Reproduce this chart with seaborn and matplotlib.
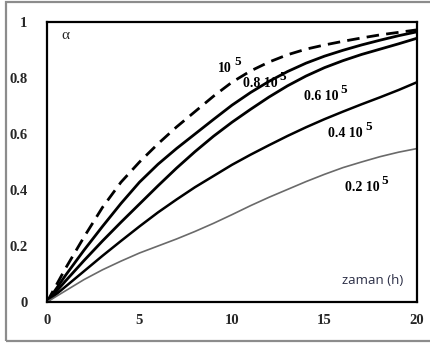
import matplotlib
matplotlib.use("Agg")
import matplotlib.pyplot as plt
import seaborn as sns
import pandas as pd
from matplotlib.patches import Rectangle

# time (h)
t = [0, 1, 2, 3, 4, 5, 6, 7, 8, 9, 10, 11, 12, 13, 14, 15, 16, 17, 18, 19, 20]

# conversion alpha for each level
a_100 = [0, 0.12, 0.232, 0.338, 0.428, 0.50, 0.565, 0.625, 0.68, 0.735, 0.785, 0.825,
         0.857, 0.883, 0.903, 0.918, 0.931, 0.943, 0.954, 0.963, 0.972]
a_080 = [0, 0.095, 0.185, 0.27, 0.352, 0.428, 0.492, 0.548, 0.60, 0.652, 0.703, 0.748,
         0.788, 0.823, 0.853, 0.878, 0.899, 0.918, 0.935, 0.951, 0.965]
a_060 = [0, 0.075, 0.148, 0.218, 0.285, 0.35, 0.415, 0.478, 0.537, 0.592, 0.642, 0.688,
         0.732, 0.772, 0.807, 0.837, 0.862, 0.884, 0.903, 0.922, 0.942]
a_040 = [0, 0.055, 0.11, 0.165, 0.218, 0.27, 0.32, 0.366, 0.41, 0.45, 0.49, 0.526,
         0.56, 0.593, 0.624, 0.653, 0.68, 0.706, 0.731, 0.757, 0.785]
a_020 = [0, 0.04, 0.08, 0.115, 0.146, 0.175, 0.20, 0.225, 0.252, 0.281, 0.312, 0.344,
         0.374, 0.402, 0.43, 0.456, 0.48, 0.50, 0.519, 0.535, 0.548]

series_names = ["1.0", "0.8", "0.6", "0.4", "0.2"]
series_vals = [a_100, a_080, a_060, a_040, a_020]
curve_labels = ["10", "0.8 10", "0.6 10", "0.4 10", "0.2 10"]
label_pos = [(9.25, 0.835), (10.6, 0.78), (13.9, 0.735), (15.2, 0.60), (16.1, 0.41)]

x_ticks = [0, 5, 10, 15, 20]
y_ticks = [0, 0.2, 0.4, 0.6, 0.8, 1]
y_ticklabels = ["0", "0.2", "0.4", "0.6", "0.8", "1"]

sns.set_style("white")
plt.rcParams["font.family"] = ["Liberation Serif", "DejaVu Serif"]

df = pd.DataFrame({
    "t": t * len(series_names),
    "alpha": [v for vals in series_vals for v in vals],
    "series": [s for s in series_names for _ in t],
})

fig = plt.figure(figsize=(4.30, 3.47), dpi=100)
ax = fig.add_axes([47 / 430, 1 - 302 / 347, 370 / 430, 280 / 347])

styles = {
    "1.0": dict(color="black", lw=2.0, dashes=(4.5, 2.6)),
    "0.8": dict(color="black", lw=2.0, dashes=None),
    "0.6": dict(color="black", lw=2.0, dashes=None),
    "0.4": dict(color="black", lw=1.8, dashes=None),
    "0.2": dict(color="#6a6a6a", lw=1.2, dashes=None),
}

for name in series_names:
    sub = df[df["series"] == name]
    st = styles[name]
    sns.lineplot(data=sub, x="t", y="alpha", ax=ax, color=st["color"],
                 linewidth=st["lw"], legend=False, solid_capstyle="round",
                 solid_joinstyle="round")
    line = ax.get_lines()[-1]
    if st["dashes"] is not None:
        line.set_dashes(st["dashes"])

# curve labels: "<value> 10" followed by a raised exponent 5
for lab, (lx, ly) in zip(curve_labels, label_pos):
    txt = ax.text(lx, ly, lab, fontsize=10, fontweight="bold", ha="left",
                  va="center", color="black")
    ax.annotate("5", xy=(1.0, 0.55), xycoords=txt, xytext=(1.5, 0),
                textcoords="offset points", fontsize=9.5, fontweight="bold",
                ha="left", va="bottom", color="black")

ax.text(0.75, 0.95, "α", fontsize=11, ha="left", va="center",
        family=["Liberation Serif", "DejaVu Serif"])
ax.text(19.25, 0.075, "zaman (h)", fontsize=9.5, ha="right", va="center",
        color="#2a2d45", family=["Open Sans", "DejaVu Sans"])

ax.set_xlim(0, 20)
ax.set_ylim(0, 1)
ax.set_xticks(x_ticks)
ax.set_xticklabels([str(v) for v in x_ticks], fontweight="bold", fontsize=10.5)
ax.set_yticks(y_ticks)
ax.set_yticklabels(y_ticklabels, fontweight="bold", fontsize=10.5)
ax.tick_params(axis="x", direction="in", length=4, width=1.5, pad=9, color="black")
ax.tick_params(axis="y", direction="in", length=4, width=1.5, pad=14, color="black")
ax.set_xlabel("")
ax.set_ylabel("")
for sp in ax.spines.values():
    sp.set_visible(True)
    sp.set_color("black")
    sp.set_linewidth(1.6)

# outer frame
fig.patches.append(Rectangle((6 / 430, 1 - 341 / 347), 1.0, 339.5 / 347,
                             transform=fig.transFigure, fill=False,
                             edgecolor="#8c8c8c", linewidth=1.6, zorder=0))

fig.savefig("out.png", dpi=100)
